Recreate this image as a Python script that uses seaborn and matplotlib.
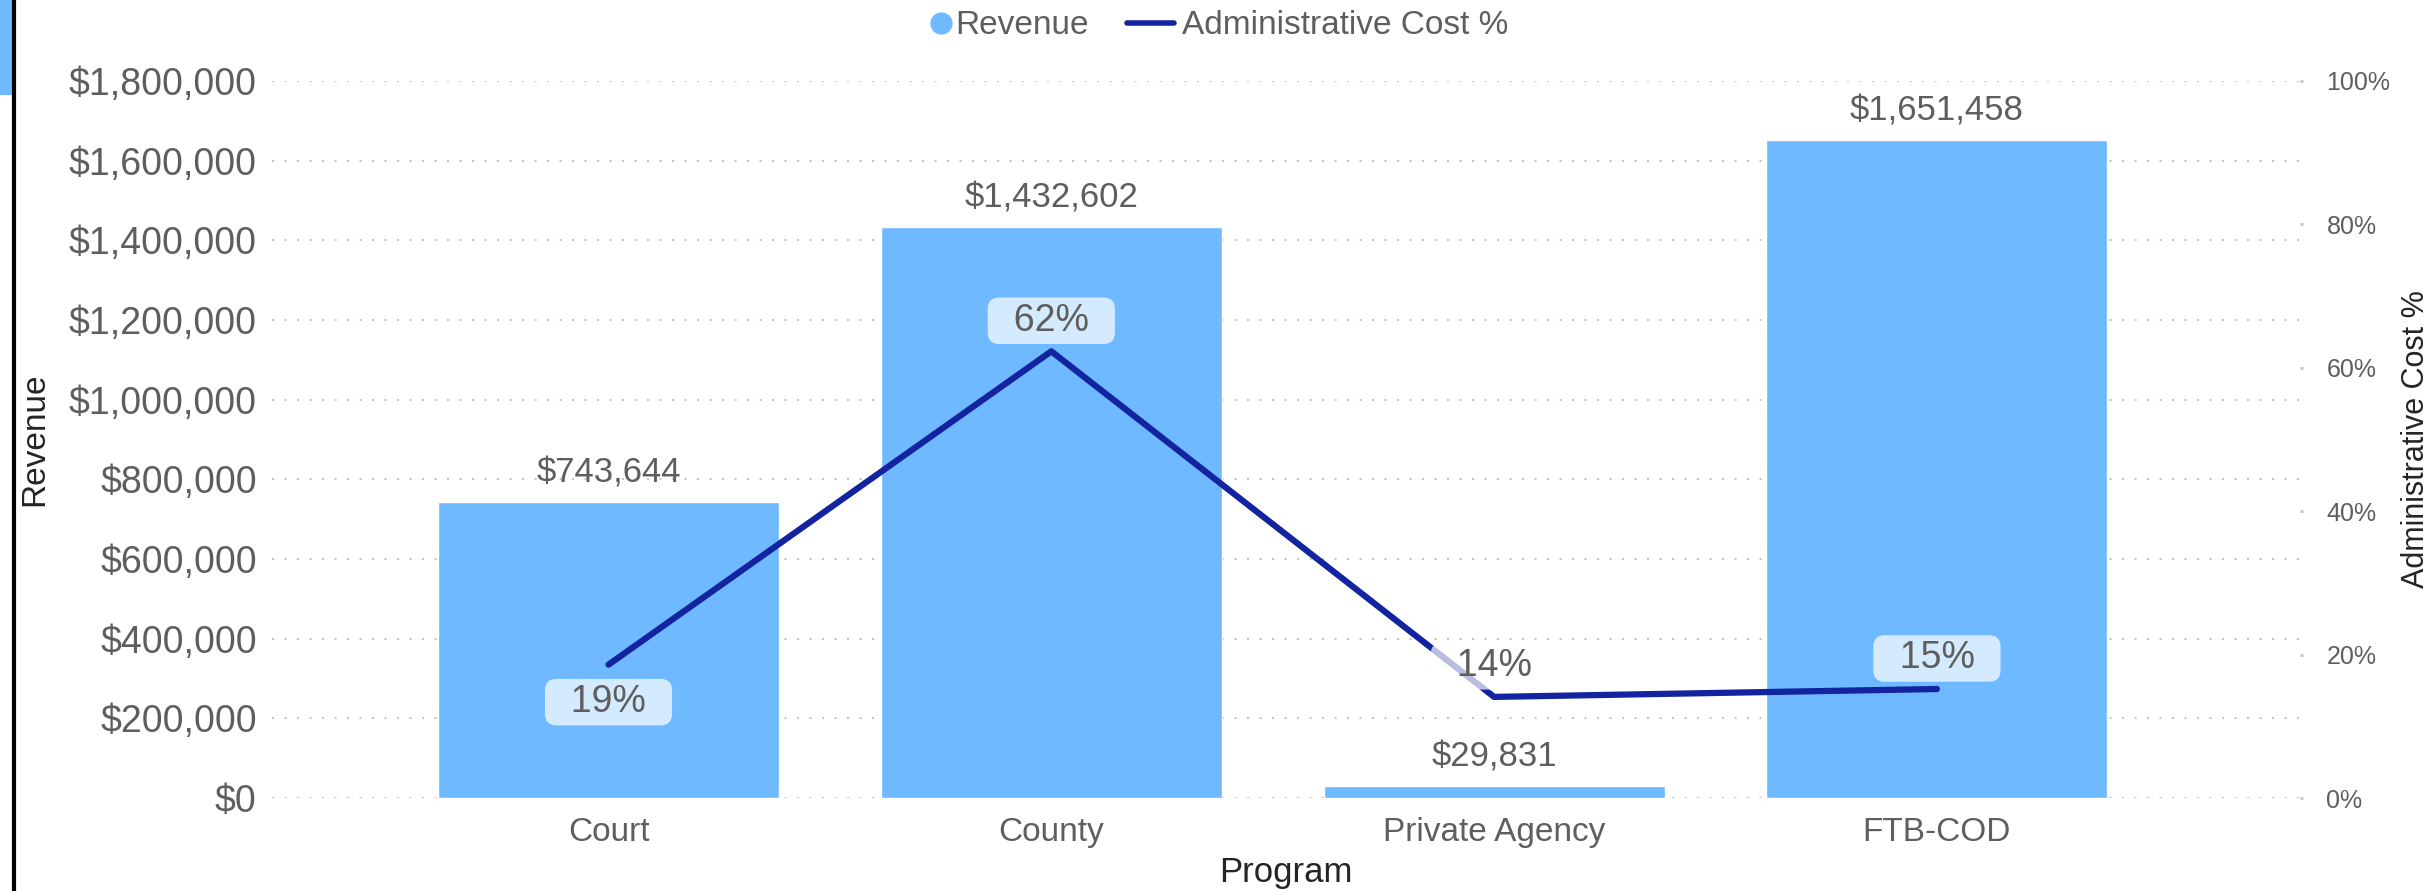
import matplotlib
matplotlib.use("Agg")
import matplotlib.pyplot as plt
import seaborn as sns
import numpy as np
from matplotlib.lines import Line2D
from matplotlib.patches import Rectangle
from matplotlib.ticker import FuncFormatter, MultipleLocator

# data
programs = ["Court", "County", "Private Agency", "FTB-COD"]
revenue = [743644, 1432602, 29831, 1651458]
admin_cost_pct = [0.186, 0.623, 0.141, 0.152]
# label above (+1) or below (-1) the line point
pct_label_side = [-1, 1, 1, 1]

bar_color = "#6EB9FF"
line_color = "#1424A0"
text_gray = "#605E5C"
title_black = "#252423"
grid_gray = "#C8C6C4"

sns.set_style("white")
plt.rcParams["font.family"] = ["Liberation Sans", "DejaVu Sans"]

fig = plt.figure(figsize=(24.36, 8.91), dpi=100)
ax = fig.add_axes([272 / 2436, 93 / 891, 2028 / 2436, 717 / 891])

sns.barplot(x=programs, y=revenue, color=bar_color, saturation=1,
            width=0.77, ax=ax, zorder=2)
ax.set_xlim(-0.76, 3.82)
ax.set_ylim(0, 1800000)
ax.yaxis.set_major_locator(MultipleLocator(200000))
ax.yaxis.set_major_formatter(FuncFormatter(lambda v, p: f"${v:,.0f}"))
ax.grid(axis="y", color=grid_gray, linestyle=(0, (1, 5)), linewidth=1.5, zorder=0)
ax.set_axisbelow(True)
ax.tick_params(axis="y", length=0, pad=11, labelsize=27, labelcolor=text_gray)
ax.tick_params(axis="x", length=0, pad=14, labelsize=24, labelcolor=text_gray)
for s in ax.spines.values():
    s.set_visible(False)

ax.set_ylabel("Revenue", fontsize=24, color=title_black)
ax.yaxis.set_label_coords((50 - 272) / 2028, 0.5)
ax.set_xlabel("Program", fontsize=25, color=title_black)
ax.xaxis.set_label_coords(0.5, -0.081)

ax.bar_label(ax.containers[0], labels=[f"${v:,.0f}" for v in revenue],
             padding=9, fontsize=25, color=text_gray)

ax2 = ax.twinx()
sns.lineplot(x=np.arange(len(programs)), y=admin_cost_pct, color=line_color,
             linewidth=4.5, ax=ax2, solid_capstyle="round", zorder=3)
ax2.set_ylim(0, 1.0)
ax2.yaxis.set_major_locator(MultipleLocator(0.2))
ax2.yaxis.set_major_formatter(FuncFormatter(lambda v, p: f"{v:.0%}"))
ax2.tick_params(axis="y", length=2, width=2, color=grid_gray, pad=17,
                labelsize=18, labelcolor=text_gray)
for s in ax2.spines.values():
    s.set_visible(False)
ax2.set_ylabel("Administrative Cost %", fontsize=22, color=title_black)
ax2.yaxis.set_label_coords((2401 - 272) / 2028, 0.5)

for i, (v, side) in enumerate(zip(admin_cost_pct, pct_label_side)):
    off = 22 if side > 0 else -27
    ax2.annotate(f"  {v:.0%}  ", (i, v), xytext=(0, off), textcoords="offset points",
                 ha="center", va="center", fontsize=27, color=text_gray, zorder=4,
                 bbox=dict(boxstyle="round,pad=0.14,rounding_size=0.3",
                           fc="white", ec="none", alpha=0.7))

# legend: two pieces so the dot sits close to its text like the reference
rev_handle = Line2D([], [], marker="o", linestyle="none", markersize=15,
                    markerfacecolor=bar_color, markeredgecolor=bar_color)
cost_handle = Line2D([], [], color=line_color, linewidth=4)
fig.legend([rev_handle], ["Revenue"], loc="center",
           bbox_to_anchor=(0.4146, 0.971), frameon=False, fontsize=24,
           labelcolor=text_gray, handlelength=0.6, handletextpad=0.15)
fig.legend([cost_handle], ["Administrative Cost %"], loc="center",
           bbox_to_anchor=(0.541, 0.971), frameon=False, fontsize=24,
           labelcolor=text_gray, handlelength=1.4, handletextpad=0.25)

# left border strip from the screenshot
fig.add_artist(Rectangle((0, 1 - 95 / 891), 12 / 2436, 95 / 891,
                         transform=fig.transFigure, color=bar_color, lw=0))
fig.add_artist(Line2D([14 / 2436, 14 / 2436], [0, 1], transform=fig.transFigure,
                      color="black", linewidth=3))

fig.savefig("out.png", dpi=100)
